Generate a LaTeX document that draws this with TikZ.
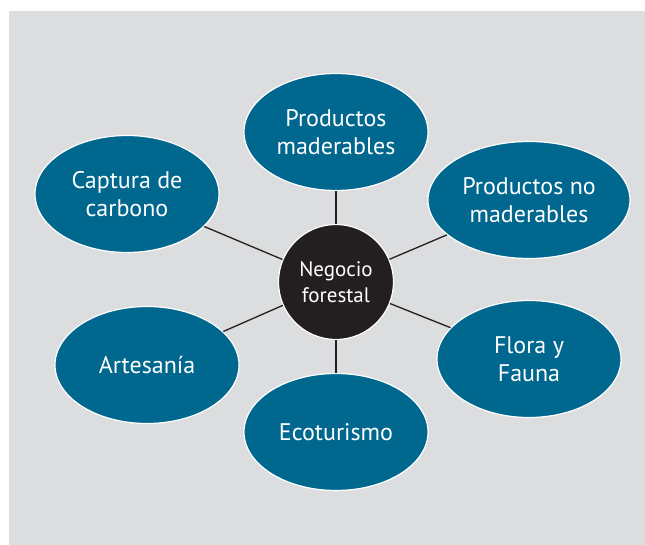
\documentclass[tikz,border=0pt]{standalone}
\usepackage{fontspec}
\setmainfont{PT Sans}
\usetikzlibrary{shapes.geometric}
\definecolor{bgray}{RGB}{220,221,223}
\definecolor{teal}{RGB}{0,103,143}
\definecolor{dark}{RGB}{35,31,32}
\begin{document}
\begin{tikzpicture}[x=1pt,y=-1pt,
  leaf/.style={ellipse,fill=teal,draw=white,line width=1.2pt,minimum width=184pt,minimum height=117pt,inner sep=0pt,text=white,align=center,font=\fontsize{24}{28}\selectfont},
  hub/.style={circle,fill=dark,draw=white,line width=1.2pt,minimum size=115pt,inner sep=0pt,text=white,align=center,font=\fontsize{21}{26}\selectfont},
  link/.style={draw=dark,line width=1.3pt}]
\useasboundingbox (0,0) rectangle (645,545);
\fill[white] (0,0) rectangle (645,545);
\fill[bgray] (9,11) rectangle (645,545);
\node[hub] (c) at (336,282) {Negocio\\forestal};
\node[leaf] (pm) at (336,132) {Productos\\maderables};
\node[leaf] (cc) at (127,194) {Captura de\\carbono};
\node[leaf,minimum width=202pt] (pn) at (529,200) {Productos no\\maderables};
\node[leaf] (ar) at (147,365) {Artesanía};
\node[leaf] (ff) at (529,359) {Flora y\\Fauna};
\node[leaf] (ec) at (336,432) {Ecoturismo};
\foreach \n in {pm,cc,pn,ar,ff,ec} \draw[link] (c) -- (\n);
\end{tikzpicture}
\end{document}
